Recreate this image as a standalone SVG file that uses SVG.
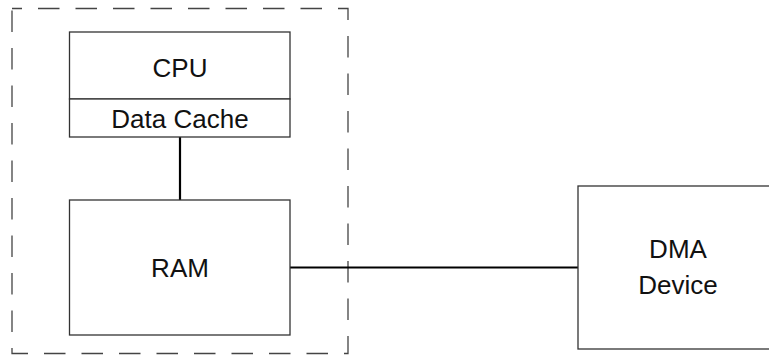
<svg xmlns="http://www.w3.org/2000/svg" width="769" height="355" viewBox="0 0 769 355">
<style>
.box{fill:#fff;stroke:#333;stroke-width:1.3}
.grp{fill:none;stroke:#444;stroke-width:1.3;stroke-dasharray:21.5 16;stroke-dashoffset:11.5}
.conn{fill:none;stroke:#000;stroke-width:2.2}
text{font-family:"Liberation Sans",Arial,Helvetica,sans-serif;font-size:26px;fill:#111;text-anchor:middle}
</style>
<rect width="769" height="355" fill="#fff"/>
<g id="boundary">
<rect class="grp" x="12" y="8.5" width="336" height="345"/>
</g>
<g id="connectors">
<line class="conn" x1="180" y1="137" x2="180" y2="200"/>
<line class="conn" x1="290" y1="267.5" x2="578" y2="267.5"/>
</g>
<g id="cpu">
<rect class="box" x="69.5" y="32" width="220.5" height="67"/>
<text x="180" y="77">CPU</text>
</g>
<g id="cache">
<rect class="box" x="69.5" y="99" width="220.5" height="38"/>
<text x="180" y="128">Data Cache</text>
</g>
<g id="ram">
<rect class="box" x="69.5" y="200" width="220.5" height="135"/>
<text x="180" y="277">RAM</text>
</g>
<g id="dma">
<rect class="box" x="578" y="186" width="200" height="163"/>
<text x="678" y="258">DMA</text>
<text x="678" y="294">Device</text>
</g>
</svg>
